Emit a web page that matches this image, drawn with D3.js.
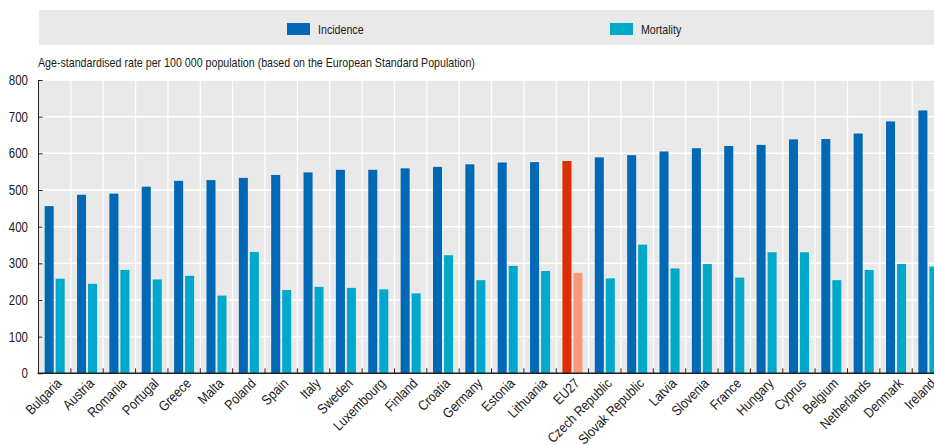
<!DOCTYPE html>
<html>
<head>
<meta charset="utf-8">
<script src="https://cdn.jsdelivr.net/npm/d3@7"></script>
<style>
  body { margin: 0; background: #fff; }
  svg { display: block; overflow: hidden; }
  text { font-family: 'Liberation Sans Narrow', 'Arial Narrow', 'Liberation Sans', sans-serif; fill: #1a1a1a; }
</style>
</head>
<body>
<div id="chart"></div>
<script>
const countries = ['Bulgaria', 'Austria', 'Romania', 'Portugal', 'Greece', 'Malta', 'Poland', 'Spain',
  'Italy', 'Sweden', 'Luxembourg', 'Finland', 'Croatia', 'Germany', 'Estonia', 'Lithuania', 'EU27',
  'Czech Republic', 'Slovak Republic', 'Latvia', 'Slovenia', 'France', 'Hungary', 'Cyprus', 'Belgium',
  'Netherlands', 'Denmark', 'Ireland'];
const incidence = [456, 487, 490, 509, 525, 527, 533, 541, 548, 555, 555, 559, 563, 570, 575, 576, 579,
  589, 595, 605, 614, 620, 623, 638, 639, 654, 687, 717];
const mortality = [258, 244, 282, 256, 266, 212, 331, 227, 236, 233, 229, 218, 322, 254, 293, 279, 274,
  259, 351, 286, 298, 261, 330, 330, 254, 282, 298, 291];
const series = ['Incidence', 'Mortality'];
const yTicks = [0, 100, 200, 300, 400, 500, 600, 700, 800];
const yTitle = 'Age-standardised rate per 100 000 population (based on the European Standard Population)';

const width = 934;
const height = 445;
const plot = { left: 38.5, top: 80, bottom: 373.3 };
const band = 32.36;
const narrow = 0.82; // no narrow face installed, squeeze the regular one
const colors = { Incidence: '#0068b4', Mortality: '#00a8cb' };
const euColors = { Incidence: '#dc2d03', Mortality: '#f79a7c' };

const svg = d3.select('#chart').append('svg')
  .attr('width', width)
  .attr('height', height);

const x = d3.scaleBand()
  .domain(countries)
  .range([plot.left, plot.left + band * countries.length])
  .padding(0);

const x1 = d3.scaleBand()
  .domain(series)
  .range([0, x.bandwidth()])
  .paddingInner(0.18)
  .paddingOuter(0.56);

const y = d3.scaleLinear()
  .domain([0, 800])
  .range([plot.bottom, plot.top]);

const plotRight = x.range()[1];

// legend
const legend = svg.append('g');
legend.append('rect')
  .attr('x', 39)
  .attr('y', 10)
  .attr('width', width - 39)
  .attr('height', 35)
  .attr('fill', '#e9e9e9');

const legendX = { Incidence: 287, Mortality: 610 };
const item = legend.selectAll('.item')
  .data(series)
  .enter()
  .append('g')
    .attr('transform', d => `translate(${legendX[d]},23)`);
item.append('rect')
  .attr('width', 23)
  .attr('height', 12)
  .attr('fill', d => colors[d]);
item.append('text')
  .attr('transform', `translate(31,10.5) scale(${narrow},1)`)
  .style('font-size', '13px')
  .text(d => d);

svg.append('text')
  .attr('transform', `translate(38,67) scale(${narrow},1)`)
  .style('font-size', '13px')
  .text(yTitle);

// plot background and grid
svg.append('rect')
  .attr('x', plot.left)
  .attr('y', plot.top)
  .attr('width', plotRight - plot.left)
  .attr('height', plot.bottom - plot.top)
  .attr('fill', '#e9e9e9');

svg.append('g')
  .selectAll('line')
  .data(yTicks.slice(1))
  .enter()
  .append('line')
    .attr('x1', plot.left)
    .attr('x2', plotRight)
    .attr('y1', d => y(d))
    .attr('y2', d => y(d))
    .attr('stroke', '#fff')
    .attr('stroke-width', 1.5);

svg.append('g')
  .selectAll('line')
  .data(countries.slice(1))
  .enter()
  .append('line')
    .attr('x1', d => x(d))
    .attr('x2', d => x(d))
    .attr('y1', plot.top)
    .attr('y2', plot.bottom)
    .attr('stroke', '#fff')
    .attr('stroke-width', 1.2);

// bars
const rows = countries.map((c, i) => ({ country: c, Incidence: incidence[i], Mortality: mortality[i] }));

svg.append('g')
  .selectAll('g')
  .data(rows)
  .enter()
  .append('g')
    .attr('transform', d => `translate(${x(d.country)},0)`)
  .selectAll('rect')
  .data(d => series.map(s => ({ key: s, value: d[s], eu: d.country === 'EU27' })))
  .enter()
  .append('rect')
    .attr('x', d => x1(d.key))
    .attr('width', x1.bandwidth())
    .attr('y', d => y(d.value))
    .attr('height', d => y(0) - y(d.value))
    .attr('fill', d => (d.eu ? euColors[d.key] : colors[d.key]));

// axes
const yAxis = svg.append('g')
  .attr('transform', `translate(${plot.left},0)`)
  .call(d3.axisRight(y).tickValues(yTicks).tickSize(4).tickFormat(''));
yAxis.select('.domain').attr('d', `M0,${plot.top}V${plot.bottom}`).attr('stroke', '#222');
yAxis.selectAll('.tick line').attr('stroke', '#222');

svg.append('g')
  .selectAll('text')
  .data(yTicks)
  .enter()
  .append('text')
    .attr('transform', d => `translate(28,${y(d)}) scale(${narrow},1)`)
    .attr('dy', '0.36em')
    .attr('text-anchor', 'end')
    .style('font-size', '14px')
    .text(d => d);

svg.append('g')
  .selectAll('line')
  .data(countries.slice(1))
  .enter()
  .append('line')
    .attr('x1', d => x(d))
    .attr('x2', d => x(d))
    .attr('y1', plot.bottom)
    .attr('y2', plot.bottom - 5)
    .attr('stroke', '#222');

svg.append('line')
  .attr('x1', plot.left - 1)
  .attr('x2', plotRight)
  .attr('y1', plot.bottom)
  .attr('y2', plot.bottom)
  .attr('stroke', '#222')
  .attr('stroke-width', 1.5);

svg.append('g')
  .selectAll('text')
  .data(countries)
  .enter()
  .append('text')
    .attr('transform', d => `translate(${x(d) + x.bandwidth() / 2 + 1},${plot.bottom + 4}) rotate(-45) scale(0.86,1)`)
    .attr('text-anchor', 'end')
    .attr('dy', '0.7em')
    .style('font-size', '14px')
    .text(d => d);
</script>
</body>
</html>
